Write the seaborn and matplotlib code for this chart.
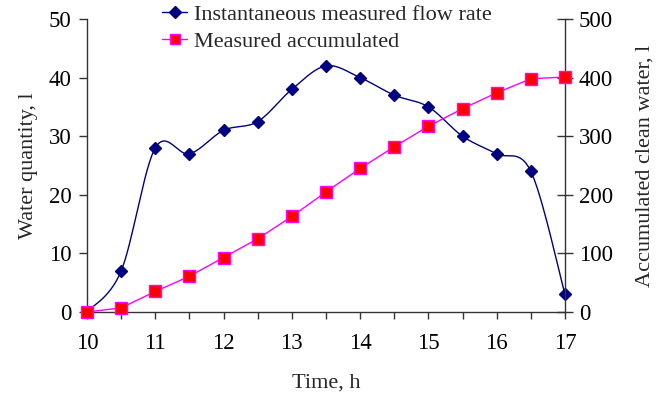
import numpy as np
import pandas as pd
import seaborn as sns
import matplotlib
matplotlib.use("Agg")
import matplotlib.pyplot as plt
from matplotlib.lines import Line2D

# Measurements taken every half hour
time_h = [10, 10.5, 11, 11.5, 12, 12.5, 13, 13.5, 14, 14.5, 15, 15.5, 16, 16.5, 17]
flow_rate = [0, 7, 28, 27, 31, 32.5, 38, 42, 40, 37, 35, 30, 27, 24, 3]
accumulated = [0, 7, 35, 61, 93, 125, 163, 205, 245, 282, 317, 347, 374, 398, 401]

flow_label = "Instantaneous measured flow rate"
acc_label = "Measured accumulated"


def smooth_curve(x, y, n=30):
    """Catmull-Rom style smoothing through every point (as a smoothed line chart)."""
    x = np.asarray(x, float)
    y = np.asarray(y, float)
    px = np.concatenate([[x[0]], x, [x[-1]]])
    py = np.concatenate([[y[0]], y, [y[-1]]])
    xs, ys = [], []
    t = np.linspace(0, 1, n)
    for i in range(1, len(px) - 2):
        p0 = np.array([px[i], py[i]])
        p3 = np.array([px[i + 1], py[i + 1]])
        p1 = p0 + (np.array([px[i + 1], py[i + 1]]) - np.array([px[i - 1], py[i - 1]])) / 6
        p2 = p3 - (np.array([px[i + 2], py[i + 2]]) - np.array([px[i], py[i]])) / 6
        b = ((1 - t) ** 3)[:, None] * p0 + (3 * (1 - t) ** 2 * t)[:, None] * p1 \
            + (3 * (1 - t) * t ** 2)[:, None] * p2 + (t ** 3)[:, None] * p3
        xs.extend(b[:, 0])
        ys.extend(b[:, 1])
    return pd.DataFrame({"x": xs, "y": ys})


sns.set_style("ticks")
plt.rcParams["font.family"] = ["Liberation Serif", "DejaVu Serif"]
plt.rcParams["font.size"] = 16
plt.rcParams["xtick.labelsize"] = 16.5
plt.rcParams["ytick.labelsize"] = 16.5
plt.rcParams["axes.labelsize"] = 16
plt.rcParams["axes.edgecolor"] = "#333333"
plt.rcParams["xtick.color"] = "#333333"
plt.rcParams["ytick.color"] = "#333333"
plt.rcParams["xtick.labelcolor"] = "black"
plt.rcParams["ytick.labelcolor"] = "black"

fig = plt.figure(figsize=(6.65, 3.96), dpi=100)
ax = fig.add_axes([87 / 665, 1 - 312 / 396, (565 - 87) / 665, (312 - 19) / 396])
ax2 = ax.twinx()

navy = "#000080"
magenta = "#FF00FF"

# Flow rate: smoothed line with diamond markers
curve = smooth_curve(time_h, flow_rate)
sns.lineplot(data=curve, x="x", y="y", ax=ax, color=navy, linewidth=1.0,
             sort=False, estimator=None, legend=False)
ax.plot(time_h, flow_rate, linestyle="none", marker="D", markersize=6,
        color=navy, markeredgecolor=navy, clip_on=False, zorder=5)

# Accumulated volume: straight segments with square markers
acc_df = pd.DataFrame({"x": time_h, "y": accumulated})
sns.lineplot(data=acc_df, x="x", y="y", ax=ax2, color=magenta, linewidth=1.0,
             estimator=None, legend=False)
ax2.plot(time_h, accumulated, linestyle="none", marker="s", markersize=8,
         color="#FF0000", markeredgecolor=magenta, markeredgewidth=1.0,
         clip_on=False, zorder=5)

ax.set_xlim(10, 17)
ax.set_ylim(0, 50)
ax2.set_ylim(0, 500)
ax.set_xticks(np.arange(10, 17.01, 0.5))
ax.set_xticklabels([str(int(v)) if v == int(v) else "" for v in np.arange(10, 17.01, 0.5)])
ax.set_yticks(range(0, 51, 10))
ax2.set_yticks(range(0, 501, 100))

ax.set_xlabel("Time, h", labelpad=14)
ax.set_ylabel("Water quantity, l", labelpad=8)
ax2.set_ylabel("Accumulated clean water, l", labelpad=16)

for a in (ax, ax2):
    a.spines["top"].set_visible(False)
    for s in a.spines.values():
        s.set_linewidth(1.0)
ax.spines["right"].set_visible(False)
ax2.spines["left"].set_visible(False)
ax2.spines["bottom"].set_visible(False)

ax.tick_params(axis="x", direction="out", length=5, width=1, pad=10)
ax.tick_params(axis="y", direction="out", length=6, width=1, pad=5)
ax2.tick_params(axis="y", direction="inout", length=12, width=1, pad=4)

handles = [
    Line2D([], [], color=navy, marker="D", markersize=6, linewidth=1.0),
    Line2D([], [], color=magenta, marker="s", markersize=7, markerfacecolor="#FF0000",
           markeredgecolor=magenta, linewidth=1.0),
]
fig.legend(handles, [flow_label, acc_label], loc="upper left",
           bbox_to_anchor=(158 / 665, 1 + 0 / 396), frameon=False,
           handlelength=1.1, handletextpad=0.3, labelspacing=0.3,
           borderpad=0.2, borderaxespad=0)

fig.savefig("out.png", dpi=100)
